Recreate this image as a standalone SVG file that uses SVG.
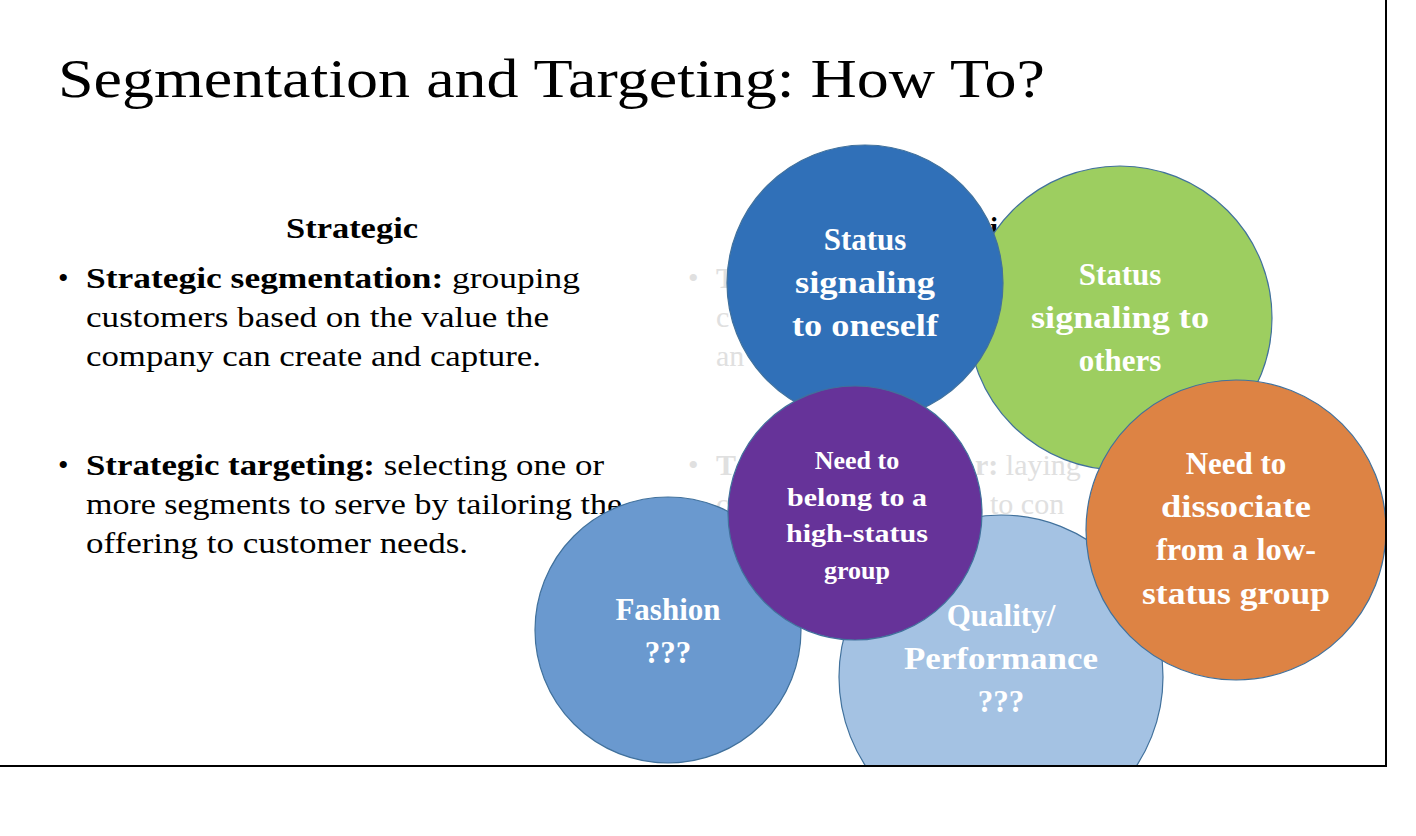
<svg xmlns="http://www.w3.org/2000/svg" width="1416" height="836" viewBox="0 0 1416 836">
<style>
text{font-family:"Liberation Serif","Times New Roman",serif}
.b{font-size:30px;fill:#000}
.f{font-size:30px;fill:#e0e0e0}
.c{stroke:#41719c;stroke-width:1.2}
.w{fill:#fff;font-weight:bold;text-anchor:middle}
</style>
<defs><clipPath id="cl"><rect x="0" y="0" width="1386" height="765"/></clipPath></defs>
<rect width="1416" height="836" fill="#fff"/>
<text x="58" y="97" style="font-size:54px" textLength="987" lengthAdjust="spacingAndGlyphs">Segmentation and Targeting: How To?</text>
<text x="352" y="238" text-anchor="middle" style="font-size:29px;font-weight:bold" textLength="132" lengthAdjust="spacingAndGlyphs">Strategic</text>
<text class="b" x="58" y="288">•</text>
<text class="b" x="86" y="288" textLength="494" lengthAdjust="spacingAndGlyphs"><tspan font-weight="bold">Strategic segmentation:</tspan> grouping</text>
<text class="b" x="86" y="327" textLength="463" lengthAdjust="spacingAndGlyphs">customers based on the value the</text>
<text class="b" x="86" y="366" textLength="455" lengthAdjust="spacingAndGlyphs">company can create and capture.</text>
<text class="b" x="58" y="475">•</text>
<text class="b" x="86" y="475" textLength="518" lengthAdjust="spacingAndGlyphs"><tspan font-weight="bold">Strategic targeting:</tspan> selecting one or</text>
<text class="b" x="86" y="514" textLength="536" lengthAdjust="spacingAndGlyphs">more segments to serve by tailoring the</text>
<text class="b" x="86" y="553" textLength="382" lengthAdjust="spacingAndGlyphs">offering to customer needs.</text>
<text x="990" y="238" style="font-size:29px;font-weight:bold">i</text>
<text class="f" x="688" y="288">•</text><text class="f" x="716" y="288" font-weight="bold">T</text>
<text class="f" x="716" y="327">c</text>
<text class="f" x="716" y="366">an</text>
<text class="f" x="688" y="475">•</text><text class="f" x="716" y="475" font-weight="bold">T</text>
<text class="f" x="975" y="475"><tspan font-weight="bold">r:</tspan> laying</text>
<text class="f" x="716" y="514">c</text>
<text class="f" x="990" y="514">to con</text>
<g clip-path="url(#cl)">
<g id="fashion"><circle class="c" cx="668" cy="630" r="133" fill="#6a99cf"/><text class="w" x="668" y="620" font-size="31">Fashion</text><text class="w" x="668" y="663" font-size="31">???</text></g>
<g id="quality"><circle class="c" cx="1001" cy="677" r="162" fill="#a4c2e3"/><text class="w" x="1001" y="626" font-size="31">Quality/</text><text class="w" x="1001" y="669" font-size="31" textLength="194" lengthAdjust="spacingAndGlyphs">Performance</text><text class="w" x="1001" y="712" font-size="31">???</text></g>
<g id="others"><circle class="c" cx="1120" cy="318" r="152" fill="#9dce60"/><text class="w" x="1120" y="285" font-size="31">Status</text><text class="w" x="1120" y="328" font-size="31" textLength="178" lengthAdjust="spacingAndGlyphs">signaling to</text><text class="w" x="1120" y="371" font-size="31">others</text></g>
<g id="oneself"><circle class="c" cx="865" cy="283" r="138" fill="#3070b8"/><text class="w" x="865" y="250" font-size="31">Status</text><text class="w" x="865" y="293" font-size="31" textLength="140" lengthAdjust="spacingAndGlyphs">signaling</text><text class="w" x="865" y="336" font-size="31" textLength="146" lengthAdjust="spacingAndGlyphs">to oneself</text></g>
<g id="belong"><circle class="c" cx="855" cy="513" r="127" fill="#663399"/><text class="w" x="857" y="469" font-size="26">Need to</text><text class="w" x="857" y="506" font-size="26" textLength="140" lengthAdjust="spacingAndGlyphs">belong to a</text><text class="w" x="857" y="542" font-size="26" textLength="142" lengthAdjust="spacingAndGlyphs">high-status</text><text class="w" x="857" y="579" font-size="26">group</text></g>
<g id="dissociate"><circle class="c" cx="1236" cy="530" r="150" fill="#dd8344"/><text class="w" x="1236" y="474" font-size="31">Need to</text><text class="w" x="1236" y="517" font-size="31" textLength="150" lengthAdjust="spacingAndGlyphs">dissociate</text><text class="w" x="1236" y="560" font-size="31" textLength="160" lengthAdjust="spacingAndGlyphs">from a low-</text><text class="w" x="1236" y="604" font-size="31" textLength="188" lengthAdjust="spacingAndGlyphs">status group</text></g>
</g>
<path d="M0 766H1386V0" fill="none" stroke="#000" stroke-width="2"/>
<g id="connectors"/>
</svg>
